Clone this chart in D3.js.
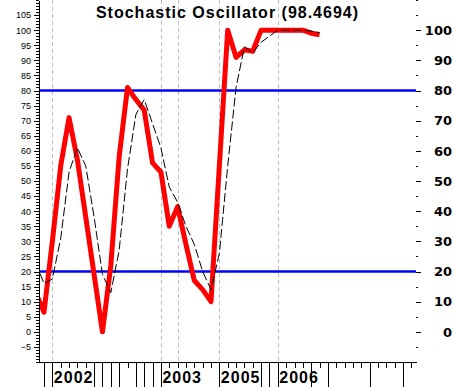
<!DOCTYPE html>
<html>
<head>
<meta charset="utf-8">
<script src="https://cdn.jsdelivr.net/npm/d3@7"></script>
<style>
  body { margin: 0; background: #fff; }
  svg { display: block; }
</style>
</head>
<body>
<svg></svg>
<script>
// bar index of each reading (bar 0 is the first full bar on the axis)
const periods = [-1, 0, 1, 2, 3, 4, 5, 6, 7, 8, 9, 10, 11, 12, 13, 14, 15, 16, 17,
    18, 19, 20, 21, 22, 23, 24, 25, 26, 27, 28, 29, 30, 31, 32, 33];

// %K (red, thick)
const pctK = [13, 6.5, 30, 55, 71, 57, 38, 19, 0, 22, 58, 81, 77, 73.5, 56, 53, 35, 41.5, 29,
    17, 14, 10, 55, 100, 91, 93.5, 93, 100, 100, 100, 100, 100, 100, 99, 98.4694];

// %D (black, dashed)
const pctD = [23, 16, 17.5, 31, 53, 61, 55, 38, 19, 13, 27, 54, 72, 77, 69, 61, 48, 43, 35,
    29, 20, 14, 26, 55, 81, 94.5, 92.5, 96, 98, 100, 100, 100, 100, 99.7, 99.2];

// first bar of each year, and its label ("2004" is not printed on the chart)
const yearStarts = [1, 14, 16, 21, 28];
const yearLabels = ["2002", "2003", "", "2005", "2006"];

// bars whose tick runs to the bottom of the picture
const longTicks = [0, 1, 6, 7, 8, 9, 11, 12, 13, 14, 21, 26, 27, 28, 32, 34, 39, 43];
const barCount = 45;

const levels = [20, 80];
const title = "Stochastic Oscillator (98.4694)";

const width = 454;
const height = 387;
const plotL = 39, plotR = 416, plotT = 0, plotB = 362;

const svg = d3.select("svg")
    .attr("width", width)
    .attr("height", height)
    .attr("viewBox", [0, 0, width, height]);

const x = d3.scaleLinear().domain([-0.6, 44.55]).range([plotL, plotR]);
const y = d3.scaleLinear().domain([-10, 110]).range([plotB, plotT]);

svg.append("defs").append("clipPath")
    .attr("id", "plot")
    .append("rect")
    .attr("x", plotL).attr("y", plotT)
    .attr("width", plotR - plotL).attr("height", plotB - plotT);

// year grid lines
svg.append("g")
    .attr("stroke", "#bdbdbd")
    .attr("stroke-dasharray", "4,3")
    .attr("shape-rendering", "crispEdges")
    .selectAll("line")
    .data(yearStarts)
    .join("line")
    .attr("x1", d => Math.round(x(d)) + 0.5)
    .attr("x2", d => Math.round(x(d)) + 0.5)
    .attr("y1", plotT)
    .attr("y2", plotB);

// 20 / 80 levels
svg.append("g")
    .attr("stroke", "#0000ff")
    .attr("stroke-width", 2.5)
    .selectAll("line")
    .data(levels)
    .join("line")
    .attr("x1", plotL)
    .attr("x2", plotR)
    .attr("y1", d => y(d))
    .attr("y2", d => y(d));

const pts = periods.map((p, i) => ({ p, k: pctK[i], d: pctD[i] }));

const lines = svg.append("g").attr("clip-path", "url(#plot)");

lines.append("path")
    .datum(pts)
    .attr("fill", "none")
    .attr("stroke", "#ff0000")
    .attr("stroke-width", 5)
    .attr("stroke-linejoin", "round")
    .attr("d", d3.line().x(d => x(d.p)).y(d => y(d.k)));

lines.append("path")
    .datum(pts)
    .attr("fill", "none")
    .attr("stroke", "#000")
    .attr("stroke-width", 1)
    .attr("stroke-dasharray", "9,3")
    .attr("d", d3.line().x(d => x(d.p)).y(d => y(d.d)));

// left ruler axis
svg.append("g")
    .attr("transform", `translate(${plotL},0)`)
    .call(d3.axisLeft(y).tickValues(d3.range(-10, 111, 1)).tickSize(3).tickSizeOuter(0).tickFormat(""));

const leftMajor = svg.append("g")
    .attr("transform", `translate(${plotL},0)`)
    .call(d3.axisLeft(y).tickValues(d3.range(-5, 106, 5)).tickSize(5).tickSizeOuter(0).tickPadding(3));
leftMajor.select(".domain").remove();
leftMajor.selectAll("text")
    .attr("font-family", "Liberation Sans, Arial, sans-serif")
    .attr("font-size", 9)
    .attr("fill", "#000");

// right axis (ticks + labels, no line)
const rightMinor = svg.append("g")
    .attr("transform", `translate(${plotR},0)`)
    .call(d3.axisRight(y).tickValues(d3.range(-5, 111, 5)).tickSize(2).tickFormat(""));
rightMinor.select(".domain").remove();

const rightMajor = svg.append("g")
    .attr("transform", `translate(${plotR},0)`)
    .call(d3.axisRight(y).tickValues(d3.range(0, 101, 10)).tickSize(5));
rightMajor.select(".domain").remove();
rightMajor.selectAll("text")
    .attr("x", 36)
    .attr("text-anchor", "end")
    .attr("font-family", "DejaVu Sans, sans-serif")
    .attr("font-weight", "bold")
    .attr("font-size", 13)
    .attr("fill", "#000");

// bottom axis
svg.append("g")
    .attr("transform", `translate(0,${plotB})`)
    .call(d3.axisBottom(x).tickValues(d3.range(0, barCount)).tickSize(6).tickSizeOuter(0).tickFormat(""));

const longAxis = svg.append("g")
    .attr("transform", `translate(0,${plotB})`)
    .call(d3.axisBottom(x).tickValues(longTicks).tickSize(25).tickFormat(""));
longAxis.select(".domain").remove();

svg.selectAll(".tick line, .domain").attr("shape-rendering", "crispEdges");

svg.append("g")
    .selectAll("text")
    .data(yearStarts.map((s, i) => ({ s, label: yearLabels[i] })))
    .join("text")
    .attr("x", d => x(d.s) + 1.5)
    .attr("y", 383)
    .attr("font-family", "Liberation Sans, Arial, sans-serif")
    .attr("font-weight", "bold")
    .attr("font-size", 16)
    .attr("letter-spacing", 1)
    .text(d => d.label);

svg.append("text")
    .attr("x", (plotL + plotR) / 2)
    .attr("y", 18)
    .attr("text-anchor", "middle")
    .attr("font-family", "Liberation Sans, Arial, sans-serif")
    .attr("font-weight", "bold")
    .attr("font-size", 16)
    .attr("letter-spacing", 1)
    .text(title);
</script>
</body>
</html>
